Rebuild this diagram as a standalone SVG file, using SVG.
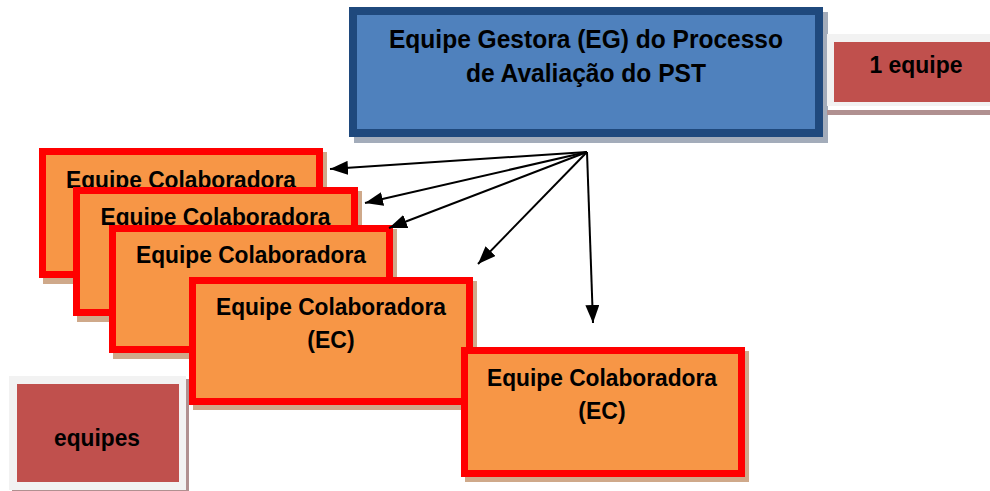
<svg xmlns="http://www.w3.org/2000/svg" width="990" height="491" viewBox="0 0 990 491">
<style>
.t{font-family:"Liberation Sans",Arial,sans-serif;font-weight:bold;fill:#000;text-anchor:middle}
.eg{font-size:25px}
.ec{font-size:23px}
.orange{fill:#F79646;stroke:#FF0000;stroke-width:7}
.oshadow{fill:#CFA98A}
.conn{stroke:#000;stroke-width:2;fill:none;marker-end:url(#ah)}
</style>
<defs>
<marker id="ah" markerUnits="userSpaceOnUse" markerWidth="18" markerHeight="14" refX="18" refY="7" orient="auto">
<path d="M0,0 L18,7 L0,14 z" fill="#000"/>
</marker>
</defs>
<rect width="990" height="491" fill="#fff"/>

<g id="eg">
<rect x="354" y="12" width="474" height="131" fill="#A3ACBA"/>
<rect x="353" y="11" width="466" height="122" fill="#4F81BD" stroke="#1F497D" stroke-width="8"/>
<text class="t eg" x="586" y="48" textLength="394" lengthAdjust="spacingAndGlyphs">Equipe Gestora (EG) do Processo</text>
<text class="t eg" x="586" y="82" textLength="240" lengthAdjust="spacingAndGlyphs">de Avaliação do PST</text>
</g>

<g id="label-1equipe">
<rect x="827" y="110" width="163" height="5" fill="#B09090"/>
<rect x="827" y="34" width="163" height="72" fill="#F2F2F2"/>
<rect x="834" y="42" width="156" height="60" fill="#C0504D"/>
<text class="t ec" x="916" y="73" textLength="93" lengthAdjust="spacingAndGlyphs">1 equipe</text>
</g>

<g id="ec1">
<rect class="oshadow" x="43" y="152" width="284" height="132"/>
<rect class="orange" x="42.5" y="151.5" width="277" height="123"/>
<text class="t ec" x="181" y="188" textLength="230" lengthAdjust="spacingAndGlyphs">Equipe Colaboradora</text>
</g>

<g id="ec2">
<rect class="oshadow" x="77" y="191" width="285" height="131"/>
<rect class="orange" x="76.5" y="190.5" width="278" height="122"/>
<text class="t ec" x="215.5" y="225" textLength="230" lengthAdjust="spacingAndGlyphs">Equipe Colaboradora</text>
</g>

<g id="ec3">
<rect class="oshadow" x="113" y="229" width="284" height="130"/>
<rect class="orange" x="112.5" y="228.5" width="277" height="121"/>
<text class="t ec" x="251" y="263" textLength="230" lengthAdjust="spacingAndGlyphs">Equipe Colaboradora</text>
</g>

<g id="ec4">
<rect class="oshadow" x="193" y="281" width="284" height="129"/>
<rect class="orange" x="192.5" y="280.5" width="277" height="121"/>
<text class="t ec" x="331" y="315" textLength="230" lengthAdjust="spacingAndGlyphs">Equipe Colaboradora</text>
<text class="t ec" x="331" y="348">(EC)</text>
</g>

<g id="ec5">
<rect class="oshadow" x="465" y="351" width="284" height="131"/>
<rect class="orange" x="464.5" y="350.5" width="277" height="123"/>
<text class="t ec" x="602" y="386" textLength="230" lengthAdjust="spacingAndGlyphs">Equipe Colaboradora</text>
<text class="t ec" x="602" y="419">(EC)</text>
</g>

<g id="label-equipes">
<rect x="12" y="379" width="177" height="112" fill="#B09090"/>
<rect x="9" y="376" width="177" height="114" fill="#F2F2F2"/>
<rect x="17" y="384" width="162" height="98" fill="#C0504D"/>
<text class="t ec" x="97" y="446" textLength="86" lengthAdjust="spacingAndGlyphs">equipes</text>
</g>

<g id="connectors">
<line class="conn" x1="587" y1="152" x2="330" y2="169"/>
<line class="conn" x1="587" y1="152" x2="365" y2="203"/>
<line class="conn" x1="587" y1="152" x2="389" y2="228"/>
<line class="conn" x1="587" y1="152" x2="478" y2="264"/>
<line class="conn" x1="587" y1="152" x2="593" y2="323"/>
</g>
</svg>
